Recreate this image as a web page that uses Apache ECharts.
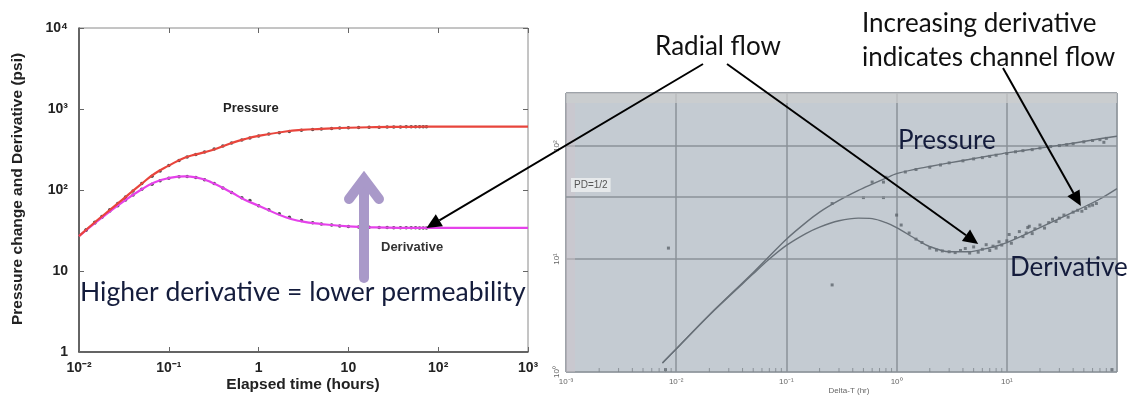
<!DOCTYPE html>
<html>
<head>
<meta charset="utf-8">
<script src="https://cdn.jsdelivr.net/npm/echarts@6/dist/echarts.min.js"></script>
<style>
html, body { margin: 0; padding: 0; background: #fff; }
#main { width: 1127px; height: 395px; }
</style>
</head>
<body>
<div id="main"></div>
<script>
// left plot: model curves (elapsed time, hours)
var curveTime = [0.01, 0.015, 0.02, 0.03, 0.05, 0.07, 0.1, 0.15, 0.2, 0.3, 0.5, 0.7, 1, 2, 3, 5, 10, 20, 50, 100, 300, 1000];
var curvePressure = [27, 40, 52, 75, 120, 160, 200, 250, 275, 310, 380, 425, 465, 528, 552, 567, 587, 597, 603, 605, 606, 606];
var curveDeriv = [27, 39, 50, 70, 102, 125, 140, 147, 143, 124, 93, 76, 64, 46, 41, 38, 35.5, 34.5, 34.1, 34, 34, 34];

// left plot: measured points
var ptTime = [0.012, 0.015, 0.018, 0.022, 0.027, 0.033, 0.04, 0.05, 0.065, 0.08, 0.1, 0.13, 0.16, 0.2, 0.25, 0.32, 0.4, 0.5, 0.65, 0.8, 1.0, 1.3, 1.7, 2.2, 3, 4, 5, 6.5, 8, 10, 13, 17, 22, 27, 32, 38, 44, 50, 56, 62, 68, 74];
var ptPressure = [32, 40, 47, 57, 68, 82, 97, 120, 148, 172, 200, 232, 255, 275, 295, 320, 350, 380, 415, 440, 465, 490, 510, 528, 545, 558, 567, 575, 582, 587, 591, 594, 597, 599, 600, 601, 602, 603, 603, 604, 604, 604];
var ptDeriv = [32, 39, 46, 55, 64, 75, 87, 102, 118, 130, 140, 146, 147, 143, 134, 120, 106, 93, 80, 74, 64, 57, 51, 46, 42, 39.5, 38, 37, 36, 35.5, 35, 34.8, 34.5, 34.4, 34.3, 34.2, 34.2, 34.1, 34.1, 34, 34, 34];

// right plot: model curves (Delta-T, hr)
var rTime = [0.0075, 0.01, 0.02, 0.05, 0.07, 0.1, 0.15, 0.2, 0.3, 0.45, 0.6, 0.8, 1, 1.5, 2, 3, 4.5, 7, 10, 20, 40, 70, 100];
var rPressure = [1.2, 1.6, 3.2, 7.6, 10.6, 15, 21, 26, 33, 40.5, 46, 52, 57, 62.5, 66, 71, 76, 82, 87, 96, 106, 116, 122];
var rDeriv = [1.2, 1.6, 3.2, 7.4, 10, 13.2, 16.8, 19.2, 21.8, 23, 22.8, 21, 19, 15, 12.9, 11.6, 11.6, 12.6, 14, 19, 26, 34, 42];

// right plot: measured points
var rPtPressure = [[0.26, 31], [0.6, 48], [0.8, 53], [1.2, 59], [1.5, 62], [2, 65], [2.5, 68], [3, 71], [4, 74], [5, 77], [6, 79], [7, 81], [8, 83], [10, 86], [12, 89], [14, 91], [17, 93], [20, 96], [25, 99], [30, 101], [35, 103], [40, 105], [50, 109], [60, 112], [70, 114], [76, 108], [80, 117]];
var rPtDeriv = [[0.5, 35], [0.76, 35], [0.76, 48], [1.0, 24.5], [1.1, 20], [1.3, 17], [1.5, 15], [1.7, 14], [2, 12.5], [2.3, 12], [2.6, 11.8], [3, 11.6], [3.4, 11.4], [3.8, 11.9], [4.2, 12.4], [4.6, 11.3], [5, 12.8], [5.5, 11.5], [6, 12.2], [6.5, 13.4], [7, 11.9], [7.5, 13], [8, 12.5], [8.5, 14.2], [9, 13.3], [10, 14.5], [10.5, 16.5], [11, 13.8], [12, 15.5], [13, 17.5], [14, 15.8], [15, 17], [15.5, 19], [16, 19.5], [17, 16.8], [18, 18.5], [20, 20], [22, 18.8], [24, 21], [26, 22.5], [28, 21.5], [30, 23], [33, 24.5], [36, 23.5], [40, 26], [44, 27], [48, 26.5], [52, 28], [56, 29.5], [60, 30], [65, 31]];
var rPtStray = [[0.0085, 12.5], [0.008, 1.05], [0.26, 5.9], [90, 1.05]];

// small log ticks drawn along the bottom of the right plot
var rMinorTicks = [0.002, 0.003, 0.004, 0.005, 0.006, 0.007, 0.008, 0.009,
    0.02, 0.03, 0.04, 0.05, 0.06, 0.07, 0.08, 0.09,
    0.2, 0.3, 0.4, 0.5, 0.6, 0.7, 0.8, 0.9,
    2, 3, 4, 5, 6, 7, 8, 9, 20, 30, 40, 50, 60, 70, 80, 90];

var pdHalf = 35.4;

// annotation anchors, in data units
var radialLeftTip = [74, 34];
var radialRightTip = [5.5, 13.6];
var channelTip = [47, 29.5];

var SUP = { '-': '\u207B', '0': '\u2070', '1': '\u00B9', '2': '\u00B2', '3': '\u00B3', '4': '\u2074' };

function powLabel(v, plainSmall) {
    var l = Math.log10(v);
    var e = Math.round(l);
    if (Math.abs(l - e) > 1e-6) return '';
    if (plainSmall && e === 0) return '1';
    if (plainSmall && e === 1) return '10';
    return '10' + String(e).split('').map(function (c) { return SUP[c]; }).join('');
}

function zip(xs, ys) {
    return xs.map(function (x, i) { return [x, ys[i]]; });
}

var chart = echarts.init(document.getElementById('main'), null, { renderer: 'canvas' });

var leftLabel = { fontFamily: 'Liberation Sans', fontWeight: 'bold', fontSize: 14, color: '#222' };
var rightLabel = { fontFamily: 'Liberation Sans', fontSize: 8, color: '#666' };
var tickIn = { show: true, inside: true, length: 5, lineStyle: { color: '#666' } };

chart.setOption({
    animation: false,
    backgroundColor: '#fff',
    grid: [
        { left: 79, top: 28, width: 449, height: 324, show: true, borderColor: '#8a8a8a', borderWidth: 1, backgroundColor: '#fff' },
        { left: 566, top: 93, width: 551, height: 279, show: true, borderColor: '#aab0b6', borderWidth: 1, backgroundColor: '#c4cbd2' }
    ],
    xAxis: [
        { type: 'log', gridIndex: 0, min: 0.01, max: 1000,
          axisLine: { lineStyle: { color: '#444', width: 1.5 } }, axisTick: tickIn,
          axisLabel: Object.assign({ margin: 9, formatter: function (v) { return powLabel(v, true); } }, leftLabel),
          splitLine: { show: false } },
        { type: 'log', gridIndex: 0, min: 0.01, max: 1000, position: 'top',
          axisLine: { show: false }, axisTick: tickIn, axisLabel: { show: false }, splitLine: { show: false } },
        { type: 'log', gridIndex: 1, min: 0.001, max: 100,
          axisLine: { show: false }, axisTick: { show: false },
          axisLabel: Object.assign({ margin: 6, formatter: function (v) { return v >= 100 ? '' : powLabel(v, false); } }, rightLabel),
          splitLine: { show: true, lineStyle: { color: '#8b9299', width: 1.5 } } }
    ],
    yAxis: [
        { type: 'log', gridIndex: 0, min: 1, max: 10000,
          axisLine: { show: true, lineStyle: { color: '#444', width: 1.5 } }, axisTick: tickIn,
          axisLabel: Object.assign({ margin: 11, formatter: function (v) { return powLabel(v, true); } }, leftLabel),
          splitLine: { show: false } },
        { type: 'log', gridIndex: 0, min: 1, max: 10000, position: 'right',
          axisLine: { show: false }, axisTick: tickIn, axisLabel: { show: false }, splitLine: { show: false } },
        { type: 'log', gridIndex: 1, min: 1, max: 295,
          axisLine: { show: false }, axisTick: { show: false },
          axisLabel: Object.assign({ margin: 5, rotate: 90, formatter: function (v) { return v >= 100.5 ? '' : powLabel(v, false); } }, rightLabel),
          splitLine: { show: true, lineStyle: { color: '#8b9299', width: 1.5 } } }
    ],
    series: [
        { type: 'line', xAxisIndex: 0, yAxisIndex: 0, data: zip(curveTime, curveDeriv), smooth: true,
          showSymbol: false, lineStyle: { color: '#e542ea', width: 2.2 } },
        { type: 'line', xAxisIndex: 0, yAxisIndex: 0, data: zip(curveTime, curvePressure), smooth: true,
          showSymbol: false, lineStyle: { color: '#e8453c', width: 2.2 } },
        { type: 'scatter', xAxisIndex: 0, yAxisIndex: 0, data: zip(ptTime, ptPressure),
          symbolSize: 3.5, itemStyle: { color: '#222' } },
        { type: 'scatter', xAxisIndex: 0, yAxisIndex: 0, data: zip(ptTime, ptDeriv),
          symbolSize: 3.5, itemStyle: { color: '#222' } },
        { type: 'line', xAxisIndex: 2, yAxisIndex: 2, data: zip(rTime, rPressure), smooth: 0.3,
          showSymbol: false, lineStyle: { color: '#687078', width: 1.4 },
          markLine: {
              silent: true, symbol: 'none', animation: false,
              lineStyle: { color: '#8b9299', width: 1.5, type: 'solid' },
              label: { show: true, position: 'insideStartTop', formatter: 'PD=1/2', color: '#555',
                       fontSize: 10, fontFamily: 'Liberation Sans', backgroundColor: '#e6e9eb',
                       padding: [2, 3], distance: [5, 5] },
              data: [{ yAxis: pdHalf }]
          } },
        { type: 'line', xAxisIndex: 2, yAxisIndex: 2, data: zip(rTime, rDeriv), smooth: 0.3,
          showSymbol: false, lineStyle: { color: '#687078', width: 1.4 } },
        { type: 'scatter', xAxisIndex: 2, yAxisIndex: 2, data: rPtPressure,
          symbol: 'rect', symbolSize: 3, itemStyle: { color: '#5e656d' } },
        { type: 'scatter', xAxisIndex: 2, yAxisIndex: 2, data: rPtDeriv,
          symbol: 'rect', symbolSize: 3, itemStyle: { color: '#5e656d' } },
        { type: 'scatter', xAxisIndex: 2, yAxisIndex: 2, data: rPtStray,
          symbol: 'rect', symbolSize: 3, itemStyle: { color: '#5e656d' } },
        { type: 'scatter', xAxisIndex: 2, yAxisIndex: 2, silent: true,
          data: rMinorTicks.map(function (t) { return [t, 1.04]; }),
          symbol: 'rect', symbolSize: [1, 4], itemStyle: { color: '#7d848b' } }
    ]
});

function arrow(from, to, color, width, headLen, headW) {
    var dx = to[0] - from[0], dy = to[1] - from[1];
    var d = Math.sqrt(dx * dx + dy * dy);
    var ux = dx / d, uy = dy / d;
    var bx = to[0] - ux * headLen, by = to[1] - uy * headLen;
    return [
        { type: 'line', z: 100, shape: { x1: from[0], y1: from[1], x2: bx, y2: by },
          style: { stroke: color, lineWidth: width } },
        { type: 'polygon', z: 100, shape: { points: [to, [bx - uy * headW, by + ux * headW], [bx + uy * headW, by - ux * headW]] },
          style: { fill: color } }
    ];
}

function txt(text, x, y, font, fill, align, extra) {
    return Object.assign({ type: 'text', z: 100, x: x, y: y,
        style: { text: text, font: font, fill: fill, textAlign: align || 'left', textVerticalAlign: 'middle' } }, extra || {});
}

var pLeft = chart.convertToPixel({ xAxisIndex: 0, yAxisIndex: 0 }, radialLeftTip);
var pRight = chart.convertToPixel({ xAxisIndex: 2, yAxisIndex: 2 }, radialRightTip);
var pChan = chart.convertToPixel({ xAxisIndex: 2, yAxisIndex: 2 }, channelTip);

var calibri = '"Lato", "Open Sans", sans-serif';
var navy = '#141c3c';

var graphics = [
    // right plot frame strips
    { type: 'rect', z: 1, shape: { x: 566, y: 93, width: 551, height: 10 }, style: { fill: 'rgba(205,205,205,0.7)' } },
    { type: 'rect', z: 1, shape: { x: 566, y: 103, width: 9, height: 269 }, style: { fill: 'rgba(208,198,204,0.45)' } },
    // left plot texts
    txt('Pressure change and Derivative (psi)', 18, 189, 'bold 15.5px "Liberation Sans"', '#222', 'center', { rotation: Math.PI / 2 }),
    txt('Elapsed time (hours)', 303, 385, 'bold 15.5px "Liberation Sans"', '#222', 'center'),
    txt('Pressure', 223, 108, 'bold 13px "Liberation Sans"', '#222'),
    txt('Derivative', 381, 247, 'bold 13px "Liberation Sans"', '#333'),
    txt('Higher derivative = lower permeability', 80, 292, '26.5px ' + calibri, navy),
    // right plot texts
    txt('Delta-T (hr)', 849, 391, '8px "Liberation Sans"', '#666', 'center'),
    txt('Pressure', 898, 141, '26px ' + calibri, navy),
    txt('Derivative', 1010, 268, '26px ' + calibri, navy),
    txt('Radial flow', 718, 47, '26px ' + calibri, '#111', 'center'),
    txt('Increasing derivative', 862, 24, '26px ' + calibri, '#111'),
    txt('indicates channel flow', 862, 58, '26px ' + calibri, '#111'),
    // purple arrow
    { type: 'line', z: 90, shape: { x1: 364, y1: 278, x2: 364, y2: 182 },
      style: { stroke: '#a999c9', lineWidth: 10, lineCap: 'round' } },
    { type: 'polyline', z: 90, shape: { points: [[349, 199], [364, 179], [379, 199]] },
      style: { stroke: '#a999c9', lineWidth: 10, lineCap: 'round', lineJoin: 'miter', fill: null } }
];

graphics = graphics
    .concat(arrow([703, 64], pLeft, '#000', 2, 15, 7))
    .concat(arrow([727, 64], pRight, '#000', 2, 15, 7))
    .concat(arrow([1003, 68], pChan, '#000', 2, 15, 7));

chart.setOption({ graphic: graphics });
</script>
</body>
</html>
